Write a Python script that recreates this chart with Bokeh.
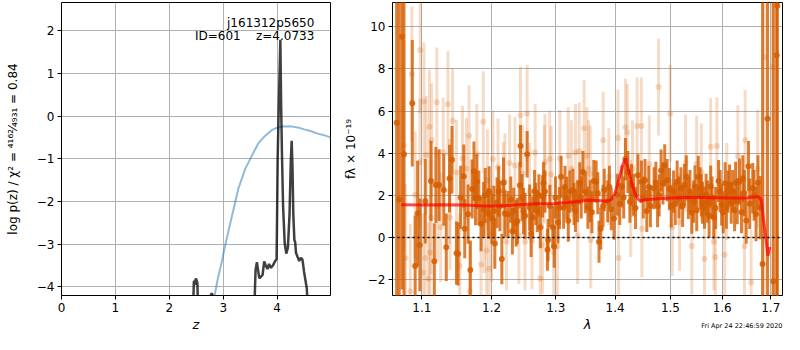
from bokeh.plotting import figure
from bokeh.layouts import row
from bokeh.models import Range1d, FixedTicker, Label, ColumnDataSource, Span, Title
from bokeh.embed import file_html
from bokeh.resources import INLINE

# ---------------- left panel: log p(z) ----------------
pz_z = [0.00, 2.40, 2.440, 2.455, 2.465, 2.475, 2.490, 2.505, 2.520, 2.535, 2.58,
        2.74, 2.760, 2.775, 2.800, 2.815, 2.86,
        3.50, 3.575, 3.600, 3.625, 3.645, 3.670, 3.700, 3.730, 3.760, 3.790, 3.820,
        3.850, 3.880, 3.920, 3.960, 3.990, 4.010, 4.030, 4.045, 4.060, 4.075, 4.090,
        4.110, 4.140, 4.170, 4.200, 4.230, 4.255, 4.270, 4.285, 4.300, 4.320, 4.335,
        4.350, 4.380, 4.410, 4.440, 4.470, 4.500, 4.550, 4.575, 4.62, 5.00]
pz_logp = [-12.0, -9.0, -4.60, -3.88, -3.86, -3.95, -3.80, -3.84, -3.90, -4.60, -9.0,
           -9.0, -4.60, -4.16, -4.17, -4.60, -9.0,
           -9.0, -4.60, -3.60, -3.42, -3.60, -3.80, -3.76, -3.72, -3.40, -3.50, -3.58,
           -3.46, -3.55, -3.50, -3.40, -3.35, -1.00, 0.20, 1.00, 1.79, 0.20, -0.90,
           -2.10, -2.97, -3.22, -3.08, -2.30, -1.00, -0.58, -1.20, -2.30, -2.90, -2.95,
           -3.20, -3.30, -3.39, -3.32, -3.36, -3.65, -4.03, -4.60, -9.0, -12.0]

prior_z = [2.78, 2.84, 2.90, 2.97, 3.05, 3.16, 3.28, 3.41, 3.53, 3.65, 3.77, 3.90,
           4.00, 4.10, 4.26, 4.40, 4.50, 4.62, 4.75, 4.88, 5.00]
prior_logp = [-4.60, -4.20, -3.80, -3.43, -2.95, -2.35, -1.70, -1.23, -0.93, -0.64,
              -0.47, -0.33, -0.27, -0.245, -0.24, -0.27, -0.31, -0.35, -0.41, -0.45, -0.50]

left_xticks = [0, 1, 2, 3, 4]
left_yticks = [-4, -3, -2, -1, 0, 1, 2]

# ---------------- right panel: spectrum ----------------
dark_wave = [1.0659, 1.0693, 1.0731, 1.0757, 1.0869, 1.0908, 1.0942, 1.0972, 1.1046, 1.1126,
             1.1172, 1.1193, 1.1239, 1.1305, 1.1340, 1.1386, 1.1421, 1.1485, 1.1509, 1.1590,
             1.1604, 1.1653, 1.1686, 1.1738, 1.1761, 1.1781, 1.1810, 1.1843, 1.1881, 1.1953,
             1.1962, 1.2034, 1.2048, 1.2082, 1.2106, 1.2154, 1.2201, 1.2249, 1.2335, 1.2373,
             1.2392, 1.2430, 1.2440, 1.2487, 1.2511, 1.2544, 1.2583, 1.2606, 1.2631, 1.2704,
             1.2752, 1.2788, 1.2802, 1.2826, 1.2866, 1.2876, 1.2951, 1.2975, 1.3036, 1.3087,
             1.3128, 1.3179, 1.3230, 1.3281, 1.3323, 1.3359, 1.3396, 1.3448, 1.3490, 1.3532,
             1.3572, 1.3631, 1.3672, 1.3721, 1.3751, 1.3811, 1.3871, 1.3933, 1.4037, 1.4118,
             1.4181, 1.4224, 1.4288, 1.4326, 1.4403, 1.4466, 1.4531, 1.4564, 1.4630, 1.4696,
             1.4761, 1.4826, 1.4860, 1.4893, 1.4938, 1.5015, 1.5059, 1.5126, 1.5198, 1.5264,
             1.5339, 1.5405, 1.5466, 1.5529, 1.5566, 1.5612, 1.5651, 1.5682, 1.5742, 1.5772,
             1.5834, 1.5928, 1.5989, 1.6060, 1.6084, 1.6115, 1.6149, 1.6182, 1.6304, 1.6350,
             1.6418, 1.6487, 1.6534, 1.6622, 1.6691, 1.6780, 1.6827, 1.6931, 1.7056, 1.7127,
             1.7140,
             1.1545, 1.1712, 1.1905, 1.2004, 1.2125, 1.2180, 1.2290, 1.2315, 1.2465, 1.2660,
             1.2680, 1.2730, 1.2905, 1.2995, 1.3060, 1.3150, 1.3205, 1.3300, 1.3420, 1.3600,
             1.3700, 1.3790, 1.3900, 1.3980, 1.4080, 1.4150, 1.4260, 1.4360, 1.4500, 1.4600,
             1.4730, 1.4790, 1.4980, 1.5090, 1.5160, 1.5230, 1.5300, 1.5370, 1.5440, 1.5500,
             1.5590, 1.5710, 1.5800, 1.5870, 1.5960, 1.6020, 1.6210, 1.6250, 1.6270, 1.6390,
             1.6450, 1.6560, 1.6650, 1.6730]
dark_flux = [5.45, 1.80, 9.53, 3.95, 6.37, -1.35, 1.14, -0.35, 1.72, 2.68,
             -1.12, 2.49, 2.49, 2.26, -0.46, 2.80, 3.69, -0.74, -0.77, 2.91,
             0.42, 1.11, -1.54, 3.15, 1.88, 2.65, 1.88, 0.65, 1.34, 1.14,
             2.18, 1.26, -0.28, 1.65, 2.18, -1.02, 1.14, 1.11, 1.26, 0.68,
             0.78, 2.48, 4.34, 1.26, 1.03, 3.95, 1.42, 0.18, 0.95, 1.26,
             0.49, 1.95, 2.57, 2.18, -0.58, -0.12, 0.49, -0.43, 0.72, 2.88,
             1.42, 1.88, 2.18, 2.26, 1.26, 1.72, 2.57, 3.11, 2.15, 1.42,
             1.72, 2.68, 2.65, -0.20, 0.42, 2.26, 1.72, 1.34, 2.03, 2.42,
             3.72, 3.11, 2.49, 2.03, 2.95, 2.65, 2.72, 1.26, 1.49, 2.34,
             1.49, 3.18, 2.57, 3.42, 2.72, 1.49, 2.18, 2.65, 2.34, 2.49,
             1.88, 1.18, 2.42, 2.88, 2.34, 1.65, 1.42, 2.03, 1.03, 2.42,
             0.95, 2.68, 1.57, 2.57, 1.42, 2.18, 2.47, 1.65, 1.73, 2.65,
             2.80, 0.81, 3.38, 2.34, 1.12, 1.42, -1.25, 5.63, -2.07, 8.65,
             11.0,
             1.90, 2.30, 2.00, 0.90, 1.50, 2.60, 1.80, 0.30, 1.90, 2.20,
             1.60, 2.00, 1.50, 1.90, 1.40, 2.40, 0.80, 1.60, 1.90, 1.20,
             2.10, 1.50, 2.40, 0.90, 1.60, 1.90, 1.70, 1.40, 1.90, 2.40,
             2.60, 2.00, 2.30, 1.60, 1.90, 1.50, 2.90, 2.20, 1.70, 1.30,
             2.00, 1.70, 1.90, 1.40, 2.20, 1.20, 2.20, 1.30, 2.60, 1.20,
             2.10, 1.60, 2.00, 2.60]
dark_err = [14.0, 14.0, 12.0, 10.0, 3.0, 2.4, 2.5, 2.2, 2.0, 1.9,
            1.8, 1.8, 1.7, 1.7, 1.6, 1.6, 1.6, 1.5, 1.5, 1.5,
            1.4, 1.4, 1.4, 1.4, 1.3, 1.3, 1.3, 1.3, 1.3, 1.2,
            1.2, 1.2, 1.2, 1.2, 1.2, 1.2, 1.1, 1.1, 1.1, 1.1,
            1.1, 1.1, 1.0, 1.1, 1.1, 1.1, 1.1, 1.1, 1.0, 1.0,
            1.0, 1.0, 1.0, 1.0, 1.0, 1.0, 1.0, 1.0, 1.0, 1.0,
            1.0, 1.0, 1.0, 1.0, 1.0, 1.0, 1.0, 1.0, 1.0, 1.0,
            1.0, 1.0, 1.0, 1.0, 1.0, 1.0, 1.0, 1.0, 1.0, 1.0,
            1.0, 1.0, 1.0, 1.0, 1.0, 1.0, 1.0, 1.0, 1.0, 1.0,
            1.0, 1.0, 1.0, 1.0, 1.0, 1.0, 1.0, 1.0, 1.0, 1.0,
            1.0, 1.0, 1.0, 1.0, 1.0, 1.0, 1.0, 1.0, 1.0, 1.0,
            1.0, 1.0, 1.0, 1.0, 1.0, 1.0, 1.0, 1.0, 1.1, 1.1,
            1.1, 1.1, 1.2, 1.2, 1.3, 1.5, 14.0, 14.0, 14.0, 14.0,
            14.0,
            1.5, 1.4, 1.3, 1.2, 1.2, 1.2, 1.1, 1.1, 1.1, 1.0,
            1.0, 1.0, 1.0, 1.0, 1.0, 1.0, 1.0, 1.0, 1.0, 1.0,
            1.0, 1.0, 1.0, 1.0, 1.0, 1.0, 1.0, 1.0, 1.0, 1.0,
            1.0, 1.0, 1.0, 1.0, 1.0, 1.0, 1.0, 1.0, 1.0, 1.0,
            1.0, 1.0, 1.0, 1.0, 1.0, 1.0, 1.0, 1.0, 1.0, 1.0,
            1.1, 1.2, 1.2, 1.3]

light_wave = [1.0757, 1.0778, 1.0843, 1.0863, 1.0908, 1.0972, 1.0977, 1.1015, 1.1028, 1.1046,
              1.1059, 1.1091, 1.1104, 1.1112, 1.1126, 1.1135, 1.1207, 1.1216, 1.1261, 1.1296,
              1.1363, 1.1386, 1.1394, 1.1430, 1.1485, 1.1532, 1.1571, 1.1628, 1.1667, 1.1675,
              1.1781, 1.1843, 1.1876, 1.1890, 1.1924, 1.1938, 1.1962, 1.2000, 1.2019, 1.2096,
              1.2177, 1.2201, 1.2225, 1.2272, 1.2354, 1.2416, 1.2440, 1.2477, 1.2511, 1.2544,
              1.2583, 1.2621, 1.2670, 1.2752, 1.2788, 1.2817, 1.2826, 1.2901, 1.2926, 1.2966,
              1.3027, 1.3066, 1.3204, 1.3256, 1.3323, 1.3359, 1.3385, 1.3469, 1.3516, 1.3543,
              1.3572, 1.3580, 1.3793, 1.3890, 1.4049, 1.4060, 1.4181, 1.4213, 1.4275, 1.4307,
              1.4389, 1.4466, 1.4475, 1.4609, 1.4780, 1.4995, 1.5035, 1.5171, 1.5285, 1.5405,
              1.5498, 1.5590, 1.5651, 1.5772, 1.5834, 1.5865, 1.5896, 1.6050, 1.6092, 1.6317,
              1.6452, 1.6466, 1.6589, 1.6724, 1.6862, 1.7035]
light_flux = [4.37, -0.97, -2.55, 7.75, 2.03, 3.57, 8.90, -1.66, 6.45, -0.97,
              3.91, -1.97, 5.26, -0.71, 0.95, 4.62, 6.42, 1.49, 0.49, 4.03,
              6.34, 2.18, 0.95, 5.54, 3.08, -1.35, 3.75, 3.26, 4.83, -2.55,
              3.95, -1.28, 5.49, 0.72, -0.62, 2.72, -1.48, 0.18, 3.72, 3.34,
              2.22, 2.65, -0.20, 3.54, 3.42, 0.10, 5.80, 3.03, -0.20, 5.88,
              2.18, -0.15, 4.03, -1.94, -0.35, 3.03, 3.57, 3.72, 3.00, -0.71,
              -0.43, 3.75, 3.88, 3.26, 4.03, 0.10, 4.11, 5.18, 3.88, 3.26,
              3.03, -0.12, 4.62, 2.88, 4.72, -0.97, 5.23, 4.98, 1.38, 3.26,
              5.29, 5.29, 0.42, 3.49, 7.14, 5.88, 0.49, 0.72, 3.54, -0.40,
              3.49, 3.11, -1.02, 4.31, -0.20, -0.92, 4.34, -0.82, 2.18, 3.87,
              -0.41, 4.61, -2.13, 3.26, 8.55, 8.09]
light_err = [5.0, 3.5, 3.2, 3.2, 3.0, 3.0, 3.0, 2.8, 2.8, 2.8,
             2.8, 2.7, 2.7, 2.7, 2.7, 2.7, 2.6, 2.6, 2.6, 2.6,
             2.5, 2.5, 2.5, 2.5, 2.5, 2.5, 2.5, 2.4, 2.4, 2.4,
             2.4, 2.4, 2.4, 2.4, 2.4, 2.4, 2.4, 2.3, 2.3, 2.3,
             2.3, 2.3, 2.3, 2.3, 2.3, 2.3, 2.3, 2.3, 2.3, 2.3,
             2.3, 2.3, 2.3, 2.3, 2.3, 2.3, 2.3, 2.3, 2.3, 2.3,
             2.3, 2.3, 2.3, 2.3, 2.3, 2.3, 2.3, 2.3, 2.3, 2.3,
             2.3, 2.3, 2.3, 2.3, 2.3, 2.3, 2.3, 2.3, 2.3, 2.3,
             2.3, 2.3, 2.3, 2.3, 2.3, 2.3, 2.3, 2.3, 2.3, 2.3,
             2.3, 2.3, 2.3, 2.3, 2.3, 2.3, 2.3, 2.3, 2.3, 2.4,
             2.4, 2.4, 2.5, 2.8, 12.0, 12.0]

model_wave = [1.072, 1.100, 1.130, 1.160, 1.190, 1.210, 1.240, 1.270, 1.300, 1.320,
              1.340, 1.355, 1.370, 1.385, 1.393, 1.399, 1.404, 1.409, 1.414, 1.418,
              1.421, 1.425, 1.430, 1.435, 1.440, 1.444, 1.450, 1.470, 1.500, 1.530,
              1.560, 1.590, 1.620, 1.645, 1.665, 1.675, 1.680, 1.685, 1.690, 1.694, 1.698]
model_flux = [1.56, 1.54, 1.55, 1.54, 1.50, 1.50, 1.55, 1.60, 1.62, 1.66,
              1.72, 1.78, 1.76, 1.72, 1.80, 2.05, 2.50, 3.00, 3.50, 3.75,
              3.45, 3.05, 2.50, 2.10, 1.85, 1.73, 1.78, 1.83, 1.88, 1.90,
              1.90, 1.89, 1.88, 1.88, 1.92, 1.92, 1.78, 0.80, -0.10, -0.87, -0.45]

right_xticks = [1.1, 1.2, 1.3, 1.4, 1.5, 1.6, 1.7]
right_yticks = [-2, 0, 2, 4, 6, 8, 10]

timestamp = "Fri Apr 24 22:46:59 2020"

assert len(dark_wave) == len(dark_flux) == len(dark_err)
assert len(light_wave) == len(light_flux) == len(light_err)
assert len(model_wave) == len(model_flux)

FONT = "DejaVu Sans"
ORANGE = "#d55e00"
GRID = "#b0b0b0"


def style(p, xt, yt):
    p.outline_line_color = "black"
    p.outline_line_alpha = 1.0
    p.outline_line_width = 1
    for ax in p.axis:
        ax.axis_line_color = None
        ax.major_tick_line_color = "black"
        ax.major_tick_line_width = 1
        ax.major_tick_out = 4
        ax.major_tick_in = 0
        ax.minor_tick_line_color = None
        ax.major_label_text_font = FONT
        ax.major_label_text_font_size = "12px"
        ax.major_label_text_color = "black"
        ax.major_label_standoff = 3
        ax.axis_label_text_font = FONT
        ax.axis_label_text_font_size = "12px"
        ax.axis_label_text_color = "black"
        ax.axis_label_text_font_style = "normal"
        ax.axis_label_standoff = 2
    p.xaxis.ticker = FixedTicker(ticks=xt)
    p.yaxis.ticker = FixedTicker(ticks=yt)
    p.xgrid.ticker = FixedTicker(ticks=xt)
    p.ygrid.ticker = FixedTicker(ticks=yt)
    for g in (p.xgrid, p.ygrid):
        g.grid_line_color = GRID
        g.grid_line_alpha = 1.0
        g.grid_line_width = 1
        g.visible = True


# ---- left figure ----
p1 = figure(width=340, height=334, x_range=Range1d(0, 4.99), y_range=Range1d(-4.2, 2.66),
            output_backend="svg", toolbar_location=None,
            min_border_left=61, min_border_right=10, min_border_top=2, min_border_bottom=38)
style(p1, left_xticks, left_yticks)
p1.yaxis.major_label_overrides = {t: (str(t).replace("-", "\u2212")) for t in left_yticks}
p1.xaxis.axis_label = "z"
p1.xaxis.axis_label_text_font_style = "italic"
p1.xaxis.axis_label_text_font_size = "13px"
p1.yaxis.axis_label = "log p(z) / \u03c7\u00b2 = \u2074\u00b9\u2076\u00b2\u2044\u2084\u2089\u2083\u2081 = 0.84"
p1.yaxis.axis_label_standoff = 14

p1.line(prior_z, prior_logp, line_color="#1f77b4", line_alpha=0.5, line_width=2)
p1.line(pz_z, pz_logp, line_color="black", line_alpha=0.75, line_width=2.5)

p1.add_layout(Label(x=4.69, y=2.17, text="j161312p5650", text_align="right",
                    text_baseline="alphabetic", text_font=FONT, text_font_size="12px",
                    text_color="black"))
p1.add_layout(Label(x=4.69, y=1.87, text="ID=601\u00a0\u00a0\u00a0\u00a0z=4.0733",
                    text_align="right", text_baseline="alphabetic", text_font=FONT,
                    text_font_size="12px", text_color="black"))

# ---- right figure ----
p2 = figure(width=444, height=334, x_axis_type="log",
            x_range=Range1d(1.0604, 1.7251), y_range=Range1d(-2.75, 11.15),
            output_backend="svg", toolbar_location=None,
            min_border_left=48, min_border_right=2, min_border_top=2, min_border_bottom=38)
style(p2, right_xticks, right_yticks)
p2.xaxis.major_label_overrides = {t: "%.1f" % t for t in right_xticks}
p2.yaxis.major_label_overrides = {t: (str(t).replace("-", "\u2212")) for t in right_yticks}
p2.xaxis.axis_label = "\u03bb"
p2.xaxis.axis_label_text_font_style = "italic"
p2.xaxis.axis_label_text_font_size = "13px"
p2.yaxis.axis_label = "f\u03bb \u00d7 10\u207b\u00b9\u2079"
p2.yaxis.axis_label_standoff = 7

light_src = ColumnDataSource(dict(
    x=light_wave, y=light_flux,
    lo=[f - e for f, e in zip(light_flux, light_err)],
    hi=[f + e for f, e in zip(light_flux, light_err)]))
dark_src = ColumnDataSource(dict(
    x=dark_wave, y=dark_flux,
    lo=[f - e for f, e in zip(dark_flux, dark_err)],
    hi=[f + e for f, e in zip(dark_flux, dark_err)]))

p2.segment(x0="x", y0="lo", x1="x", y1="hi", source=light_src,
           line_color=ORANGE, line_alpha=0.22, line_width=3)
p2.scatter("x", "y", source=light_src, size=6, fill_color=ORANGE, fill_alpha=0.22,
           line_color=None)
p2.segment(x0="x", y0="lo", x1="x", y1="hi", source=dark_src,
           line_color=ORANGE, line_alpha=0.8, line_width=3)
p2.scatter("x", "y", source=dark_src, size=6, fill_color=ORANGE, fill_alpha=0.85,
           line_color=None)
p2.line(model_wave, model_flux, line_color="red", line_alpha=0.7, line_width=3)
p2.add_layout(Span(location=0, dimension="width", line_color="black",
                   line_dash="2 3", line_width=1.5))

p2.add_layout(Title(text=timestamp, align="right", vertical_align="top",
                    text_font=FONT, text_font_size="6.5px",
                    text_font_style="normal", text_color="black", standoff=-26,
                    offset=0), "below")

layout = row(p1, p2)
open("out.html", "w").write(file_html(layout, INLINE))
